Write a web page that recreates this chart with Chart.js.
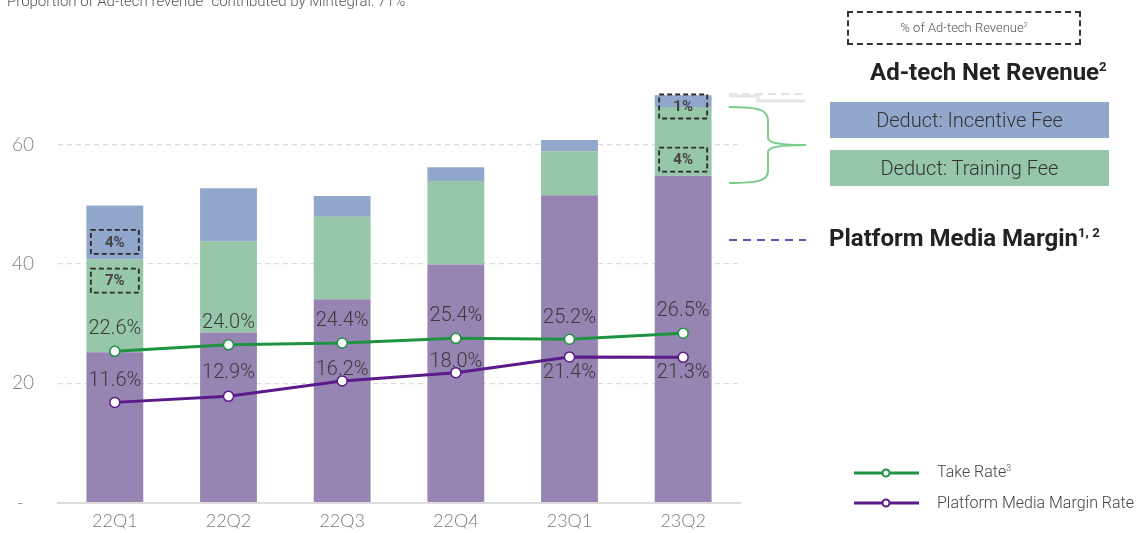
<!DOCTYPE html>
<html>
<head>
<meta charset="utf-8">
<script src="https://cdn.jsdelivr.net/npm/chart.js@4"></script>
<style>
  html, body { margin:0; padding:0; background:#fff; }
  #wrap { position:relative; width:1142px; height:533px; overflow:hidden; font-family:Roboto, "Noto Sans", sans-serif; }
  #c { position:absolute; left:0; top:0; }
  .abs { position:absolute; white-space:nowrap; }
  sup { font-size:0.55em; vertical-align:0.7em; line-height:0; }
</style>
</head>
<body>
<div id="wrap">
  <canvas id="c" width="1142" height="538"></canvas>
  <div class="abs" style="left:7px;top:-6px;font-size:15px;line-height:15px;color:#555;font-weight:300;">Proportion of Ad-tech revenue<sup>2</sup> contributed by Mintegral: 71%</div>
  <div class="abs" style="left:847px;top:11px;width:230px;height:30px;border:2px dashed #333;font-size:13px;line-height:30px;text-align:center;color:#555;font-weight:300;">% of Ad-tech Revenue<sup>2</sup></div>
  <div class="abs" style="left:870px;top:58px;font-size:24px;line-height:28px;font-weight:700;color:#222;">Ad-tech Net Revenue<sup>2</sup></div>
  <div class="abs" style="left:830px;top:102px;width:279px;height:36px;background:#91a7cc;font-size:20px;line-height:36px;text-align:center;color:#333;font-weight:300;">Deduct: Incentive Fee</div>
  <div class="abs" style="left:830px;top:150px;width:279px;height:36px;background:#96c7a9;font-size:20px;line-height:36px;text-align:center;color:#333;font-weight:300;">Deduct: Training Fee</div>
  <div class="abs" style="left:829px;top:224px;font-size:24px;line-height:28px;font-weight:700;color:#222;">Platform Media Margin<sup>1, 2</sup></div>
  <div class="abs" style="left:937px;top:463px;font-size:16px;line-height:18px;color:#444;font-weight:300;">Take Rate<sup>3</sup></div>
  <div class="abs" style="left:937px;top:494px;font-size:16px;line-height:18px;color:#444;font-weight:300;">Platform Media Margin Rate</div>
  <svg class="abs" style="left:0;top:0;" width="1142" height="533">
    <line x1="729" y1="94" x2="805" y2="94" stroke="#e2e2e2" stroke-width="2" stroke-dasharray="8,5"/>
    <polyline points="729,96 758,96 758,101 805,101" fill="none" stroke="#e6e6e6" stroke-width="3"/>
    <path d="M729,107 C760,107 768,110 768,121 L768,138 C768,143 780,145 806,145 C780,145 768,147 768,152 L768,171 C768,180 760,183 729,183" fill="none" stroke="#7ccd8c" stroke-width="2"/>
    <line x1="729" y1="240" x2="806" y2="240" stroke="#6a4fb0" stroke-width="2" stroke-dasharray="8,6"/>
    <line x1="854" y1="473" x2="919" y2="473" stroke="#1f9342" stroke-width="3"/>
    <circle cx="886" cy="473" r="3.5" fill="#fff" stroke="#1f9342" stroke-width="2"/>
    <line x1="854" y1="503" x2="919" y2="503" stroke="#5b1a8a" stroke-width="3"/>
    <circle cx="886" cy="503" r="3.5" fill="#fff" stroke="#5b1a8a" stroke-width="2"/>
  </svg>
</div>
<script>
// ---- data ----
const categories = ['22Q1', '22Q2', '22Q3', '22Q4', '23Q1', '23Q2'];
const platformMediaMargin = [25.2, 28.5, 34.1, 39.9, 51.5, 54.8];
const trainingFee = [15.6, 15.3, 13.8, 14.0, 7.4, 11.5];
const incentiveFee = [9.0, 8.9, 3.5, 2.3, 1.9, 2.0];
const takeRate = [22.6, 24.0, 24.4, 25.4, 25.2, 26.5];
const marginRate = [11.6, 12.9, 16.2, 18.0, 21.4, 21.3];
const yTicks = [0, 20, 40, 60];
const boxLabels = ['4%', '7%', '1%', '4%'];
const boxCategory = [0, 0, 5, 5];
const boxValue = [43.7, 37.2, 66.4, 57.5];

// ---- style ----
const takeLabelOffsets = [-22, -22, -22, -22, -21, -22];
const marginLabelOffsets = [-21, -23, -11, -11, 16, 16];

const labelPlugin = {
  id: 'labels',
  afterDatasetsDraw(chart) {
    const ctx = chart.ctx;
    const xs = chart.scales.x, ys = chart.scales.y;
    ctx.save();
    boxLabels.forEach((t, i) => {
      const cx = xs.getPixelForValue(boxCategory[i]);
      const cy = ys.getPixelForValue(boxValue[i]);
      ctx.setLineDash([5, 3]);
      ctx.lineWidth = 1.8;
      ctx.strokeStyle = '#2a2a2a';
      ctx.strokeRect(cx - 24, cy - 12, 48, 24);
      ctx.setLineDash([]);
      ctx.fillStyle = '#444';
      ctx.font = 'bold 15px Roboto';
      ctx.textAlign = 'center';
      ctx.textBaseline = 'middle';
      ctx.fillText(t, cx, cy + 1);
    });
    ctx.font = '300 20px Roboto';
    ctx.fillStyle = '#3a3a3a';
    ctx.textAlign = 'center';
    ctx.textBaseline = 'middle';
    const mTake = chart.getDatasetMeta(3), mMargin = chart.getDatasetMeta(4);
    mTake.data.forEach((p, i) => ctx.fillText(takeRate[i].toFixed(1) + '%', p.x, p.y + takeLabelOffsets[i]));
    mMargin.data.forEach((p, i) => ctx.fillText(marginRate[i].toFixed(1) + '%', p.x, p.y + marginLabelOffsets[i]));
    ctx.restore();
  }
};

new Chart(document.getElementById('c'), {
  data: {
    labels: categories,
    datasets: [
      { type: 'bar', data: platformMediaMargin, backgroundColor: '#9685b3', stack: 's', order: 1, yAxisID: 'y' },
      { type: 'bar', data: trainingFee, backgroundColor: '#96c7a9', stack: 's', order: 1, yAxisID: 'y' },
      { type: 'bar', data: incentiveFee, backgroundColor: '#91a7cc', stack: 's', order: 1, yAxisID: 'y' },
      { type: 'line', data: takeRate, borderColor: '#1f9342', borderWidth: 3, pointRadius: 5, pointBorderWidth: 1.5,
        pointBackgroundColor: '#fff', pointBorderColor: '#1f9342', order: 0, yAxisID: 'y2', tension: 0 },
      { type: 'line', data: marginRate, borderColor: '#5b1a8a', borderWidth: 3, pointRadius: 5, pointBorderWidth: 1.5,
        pointBackgroundColor: '#fff', pointBorderColor: '#5b1a8a', order: 0, yAxisID: 'y2', tension: 0 }
    ]
  },
  options: {
    responsive: false,
    animation: false,
    devicePixelRatio: 1,
    layout: { padding: { top: 85, right: 402, left: 0, bottom: 0 } },
    plugins: { legend: { display: false }, tooltip: { enabled: false } },
    datasets: { bar: { barPercentage: 0.5, categoryPercentage: 1 } },
    scales: {
      x: {
        stacked: true,
        grid: { display: false },
        border: { display: true, color: '#dcdcdc', width: 2 },
        ticks: { color: '#7f7a7a', font: { family: 'Lato', size: 18, weight: 300 }, padding: 0 },
        afterFit(s) { s.height = 26; }
      },
      y: {
        stacked: true,
        min: 0, max: 70,
        afterBuildTicks(s) { s.ticks = yTicks.map(v => ({ value: v })); },
        afterFit(s) { s.width = 58; },
        border: { display: false, dash: [5, 4] },
        grid: { drawTicks: false, color: c => c.tick && c.tick.value === 0 ? 'rgba(0,0,0,0)' : '#dcdcdc', lineWidth: 1.3 },
        ticks: { color: '#8a8282', font: { family: 'Lato', size: 19, weight: 300 }, padding: 24,
          callback: v => v === 0 ? '-  ' : String(v) }
      },
      y2: { display: false, min: -10, max: 80 }
    }
  },
  plugins: [labelPlugin]
});
</script>
</body>
</html>
